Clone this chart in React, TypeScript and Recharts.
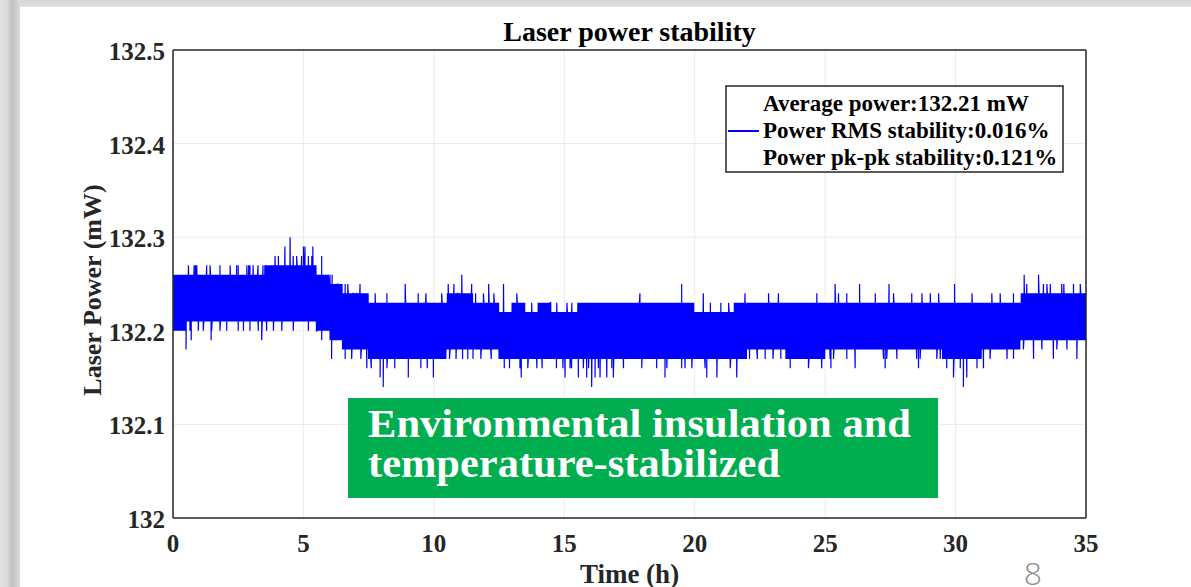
import { LineChart, Line, XAxis, YAxis, CartesianGrid } from "recharts";

const SERIF = "'Liberation Serif', 'Times New Roman', serif";
const AXIS_COLOR = "#262626";

const xTicks = [0, 5, 10, 15, 20, 25, 30, 35];
const yTicks = [132, 132.1, 132.2, 132.3, 132.4, 132.5];

// dense core of the trace, per half hour: upper and lower level (mW)
const BIN_HOURS = 0.5;
const bandHigh = [
  132.26, 132.26, 132.26, 132.26, 132.26, 132.26, 132.26,
  132.27, 132.27, 132.27, 132.27,
  132.26, 132.25, 132.24, 132.24,
  132.23, 132.23, 132.23, 132.23, 132.23,
  132.23, 132.24, 132.24, 132.23, 132.23,
  132.22, 132.23, 132.22, 132.23, 132.22, 132.22,
  132.23, 132.23, 132.23, 132.23, 132.23, 132.23, 132.23, 132.23, 132.23,
  132.22, 132.22, 132.22,
  132.23, 132.23, 132.23, 132.23, 132.23, 132.23, 132.23,
  132.23, 132.23, 132.23, 132.23, 132.23, 132.23, 132.23, 132.23, 132.23, 132.23,
  132.23, 132.23, 132.23, 132.23, 132.23,
  132.24, 132.24, 132.24, 132.24, 132.24,
];
const bandLow = [
  132.2, 132.21, 132.21, 132.21, 132.21, 132.21, 132.21, 132.21, 132.21, 132.21, 132.21,
  132.2, 132.19, 132.18, 132.18,
  132.17, 132.17, 132.17, 132.17, 132.17, 132.17,
  132.18, 132.18, 132.18, 132.18,
  132.17, 132.17, 132.17, 132.17, 132.17, 132.17, 132.17, 132.17, 132.17, 132.17,
  132.17, 132.17, 132.17, 132.17, 132.17, 132.17, 132.17, 132.17, 132.17,
  132.18, 132.18, 132.18,
  132.17, 132.17, 132.17,
  132.18, 132.18, 132.18, 132.18, 132.18, 132.18, 132.18, 132.18, 132.18,
  132.17, 132.17, 132.17,
  132.18, 132.18, 132.18,
  132.19, 132.19, 132.19, 132.19, 132.19,
];

// isolated upward excursions (h, mW)
const peakTimes = [
  0.59, 0.81, 0.86, 0.91, 1.29, 1.42, 1.8, 2.19, 2.44, 2.5, 2.83, 2.9, 2.95, 3.07, 3.26, 3.45,
  3.91, 4.04, 4.29, 4.49, 4.61, 4.74, 4.93, 5.0, 5.06, 5.19, 5.32, 5.36, 5.7,
  6.02, 6.1, 6.2, 6.3, 6.6, 6.7, 6.9, 7.05, 7.17, 7.75, 8.2, 8.9, 9.4, 9.7,
  10.3, 10.55, 10.77, 10.9, 11.07, 11.2, 11.45, 11.6, 11.9, 12.1, 12.3, 12.67, 13.18, 13.3, 13.75, 14.0, 14.2, 14.46, 14.71, 15.1, 15.29,
  17.9, 19.5, 20.33, 20.6, 21.0, 21.3, 21.93, 22.83, 23.21, 24.68,
  25.38, 25.51, 25.83, 26.32, 26.92, 27.45, 27.62, 28.32, 28.71, 29.03, 29.35, 29.96,
  30.63, 31.39, 31.71, 32.22, 32.63, 32.73, 33.18, 33.37, 33.5, 33.63, 34.07, 34.15, 34.52, 34.78,
];
const peakValues = [
  132.27, 132.27, 132.27, 132.27, 132.27, 132.27, 132.27, 132.27, 132.27, 132.27, 132.27, 132.27, 132.27, 132.27, 132.27, 132.27,
  132.28, 132.28, 132.29, 132.3, 132.28, 132.28, 132.28, 132.29, 132.29, 132.28, 132.28, 132.29, 132.28,
  132.26, 132.26, 132.25, 132.25, 132.25, 132.25, 132.24, 132.24, 132.25, 132.24, 132.24, 132.25, 132.24, 132.24,
  132.24, 132.25, 132.25, 132.24, 132.26, 132.24, 132.25, 132.24, 132.24, 132.25, 132.24, 132.25, 132.24, 132.23, 132.23, 132.23, 132.23, 132.23, 132.23, 132.23, 132.23,
  132.24, 132.25, 132.24, 132.23, 132.23, 132.23, 132.24, 132.24, 132.24, 132.24,
  132.25, 132.24, 132.24, 132.25, 132.24, 132.25, 132.24, 132.24, 132.24, 132.24, 132.24, 132.25,
  132.24, 132.24, 132.24, 132.24, 132.26, 132.25, 132.26, 132.25, 132.25, 132.25, 132.25, 132.25, 132.25, 132.25,
];

// isolated downward excursions (h, mW)
const dipTimes = [
  0.3, 0.5, 0.65, 0.7, 0.97, 1.16, 1.46, 1.48, 1.8, 2.06, 2.5, 2.7, 2.95, 3.27, 3.4, 3.59, 3.85, 4.17, 4.61, 5.19, 5.51, 5.7,
  6.08, 6.6, 6.85, 7.2, 7.43, 7.6, 7.94, 8.06, 8.2, 8.5, 9.02, 9.5, 9.75, 9.98,
  10.6, 10.85, 11.1, 11.3, 11.5, 11.8, 12.2, 12.7, 12.9, 13.3, 13.35, 13.6, 13.95, 14.15, 14.7, 14.95,
  15.03, 15.22, 15.28, 15.54, 15.73, 15.86, 15.93, 16.05, 16.18, 16.31, 16.37, 16.63, 16.82, 16.88,
  17.27, 17.97, 18.54, 18.86, 18.93, 19.5, 19.63, 19.89, 20.4, 20.46, 20.85, 21.36, 21.61,
  22.1, 22.4, 22.7, 23.0, 23.3, 23.66, 24.36, 24.87, 25.19, 25.22, 25.32, 25.83, 26.15,
  27.24, 27.3, 27.36, 27.75, 28.51, 28.58, 28.64, 29.28, 29.41, 29.66, 29.92,
  30.18, 30.3, 30.43, 30.82, 31.07, 31.32, 31.97, 32.22, 32.6, 32.99, 33.31, 33.75, 33.88, 34.27, 34.65,
];
const dipValues = [
  132.2, 132.18, 132.2, 132.19, 132.2, 132.2, 132.19, 132.2, 132.2, 132.2, 132.2, 132.2, 132.2, 132.2, 132.19, 132.2, 132.2, 132.2, 132.2, 132.2, 132.2, 132.19,
  132.17, 132.17, 132.17, 132.17, 132.16, 132.16, 132.15, 132.14, 132.16, 132.16, 132.15, 132.16, 132.16, 132.15,
  132.17, 132.17, 132.17, 132.17, 132.17, 132.17, 132.17, 132.16, 132.16, 132.16, 132.15, 132.16, 132.16, 132.16, 132.16, 132.16,
  132.15, 132.16, 132.16, 132.15, 132.16, 132.15, 132.16, 132.14, 132.15, 132.16, 132.15, 132.15, 132.16, 132.15,
  132.16, 132.16, 132.16, 132.15, 132.16, 132.16, 132.16, 132.16, 132.16, 132.15, 132.15, 132.16, 132.15,
  132.17, 132.17, 132.17, 132.17, 132.17, 132.16, 132.16, 132.16, 132.17, 132.16, 132.17, 132.17, 132.16,
  132.17, 132.16, 132.17, 132.17, 132.17, 132.16, 132.17, 132.17, 132.17, 132.16, 132.15,
  132.16, 132.14, 132.15, 132.16, 132.16, 132.17, 132.17, 132.17, 132.18, 132.17, 132.18, 132.17, 132.18, 132.18, 132.17,
];

const SAMPLE_STEP = 0.02;

function buildSeries() {
  const pts: { t: number; p: number }[] = [];
  const n = Math.round(35 / SAMPLE_STEP);
  for (let i = 0; i <= n; i++) {
    const t = Math.min(35, i * SAMPLE_STEP);
    const b = Math.min(bandHigh.length - 1, Math.floor(t / BIN_HOURS));
    pts.push({ t, p: i % 2 === 0 ? bandHigh[b] : bandLow[b] });
  }
  peakTimes.forEach((t, k) => pts.push({ t, p: peakValues[k] }));
  dipTimes.forEach((t, k) => pts.push({ t, p: dipValues[k] }));
  pts.sort((a, b) => a.t - b.t);
  return pts;
}

const series = buildSeries();

const legendLines = [
  "Average power:132.21 mW",
  "Power RMS stability:0.016%",
  "Power pk-pk stability:0.121%",
];

const XTick = ({ x, y, payload }: any) => (
  <text x={x} y={y + 34} textAnchor="middle" fontFamily={SERIF} fontWeight="bold" fontSize={25} fill={AXIS_COLOR}>
    {payload.value}
  </text>
);

const YTick = ({ x, y, payload }: any) => (
  <text x={x - 8} y={y + 10} textAnchor="end" fontFamily={SERIF} fontWeight="bold" fontSize={25} fill={AXIS_COLOR}>
    {payload.value}
  </text>
);

export default function App() {
  return (
    <div style={{ position: "absolute", left: 0, top: 0, width: 1191, height: 587, background: "#fff", overflow: "hidden" }}>
      <div
        style={{
          position: "absolute", left: 0, top: 0, width: 20, height: 587,
          background: "linear-gradient(to right, #e2e2e2 0%, #dadada 35%, #c2c2c2 60%, #cdcdcd 80%, #dcdcdc 100%)",
        }}
      />
      <div
        style={{
          position: "absolute", left: 20, top: 0, width: 1171, height: 7,
          background: "linear-gradient(to bottom, #d6d6d6 0%, #dcdcdc 70%, #e6e6e6 100%)",
        }}
      />
      <div style={{ position: "absolute", left: 0, top: 0 }}>
        <LineChart width={1191} height={587} data={series} margin={{ top: 50, right: 105, bottom: 39, left: 113 }}>
          <CartesianGrid stroke="#ebebeb" strokeWidth={1} />
          <XAxis
            dataKey="t"
            type="number"
            domain={[0, 35]}
            ticks={xTicks}
            height={30}
            tickSize={0}
            tickMargin={0}
            tickLine={false}
            axisLine={{ stroke: AXIS_COLOR, strokeWidth: 1.5 }}
            tick={<XTick />}
            allowDataOverflow
          />
          <XAxis
            xAxisId="top"
            orientation="top"
            mirror
            type="number"
            domain={[0, 35]}
            ticks={xTicks}
            tick={false}
            tickSize={8}
            tickLine={{ stroke: AXIS_COLOR, strokeWidth: 1.5 }}
            axisLine={{ stroke: AXIS_COLOR, strokeWidth: 1.5 }}
          />
          <XAxis
            xAxisId="bottomIn"
            orientation="bottom"
            mirror
            type="number"
            domain={[0, 35]}
            ticks={xTicks}
            tick={false}
            tickSize={8}
            tickLine={{ stroke: AXIS_COLOR, strokeWidth: 1.5 }}
            axisLine={false}
          />
          <YAxis
            type="number"
            domain={[132, 132.5]}
            ticks={yTicks}
            width={60}
            tickSize={0}
            tickMargin={0}
            tickLine={false}
            axisLine={{ stroke: AXIS_COLOR, strokeWidth: 1.5 }}
            tick={<YTick />}
            allowDataOverflow
          />
          <YAxis
            yAxisId="leftIn"
            orientation="left"
            mirror
            type="number"
            domain={[132, 132.5]}
            ticks={yTicks}
            tick={false}
            tickSize={8}
            tickLine={{ stroke: AXIS_COLOR, strokeWidth: 1.5 }}
            axisLine={false}
          />
          <YAxis
            yAxisId="right"
            orientation="right"
            mirror
            type="number"
            domain={[132, 132.5]}
            ticks={yTicks}
            tick={false}
            tickSize={8}
            tickLine={{ stroke: AXIS_COLOR, strokeWidth: 1.5 }}
            axisLine={{ stroke: AXIS_COLOR, strokeWidth: 1.5 }}
          />
          <Line
            type="linear"
            dataKey="p"
            stroke="#0000ff"
            strokeWidth={1.2}
            dot={false}
            isAnimationActive={false}
          />
        </LineChart>
      </div>
      <svg width={1191} height={587} style={{ position: "absolute", left: 0, top: 0, pointerEvents: "none" }}>
        <text x={629.5} y={41} textAnchor="middle" fontFamily={SERIF} fontWeight="bold" fontSize={28} fill="#000">
          Laser power stability
        </text>
        <text x={629.5} y={583} textAnchor="middle" fontFamily={SERIF} fontWeight="bold" fontSize={27} fill={AXIS_COLOR}>
          Time (h)
        </text>
        <text
          x={0}
          y={0}
          transform="translate(101 290) rotate(-90)"
          textAnchor="middle"
          fontFamily={SERIF}
          fontWeight="bold"
          fontSize={26}
          fill={AXIS_COLOR}
        >
          Laser Power (mW)
        </text>
        <rect x={726} y={86} width={337} height={86} fill="#fff" stroke={AXIS_COLOR} strokeWidth={1.5} />
        <line x1={728} y1={131} x2={759} y2={131} stroke="#0000ff" strokeWidth={2} />
        {legendLines.map((s, i) => (
          <text key={s} x={763} y={111 + i * 27} fontFamily={SERIF} fontWeight="bold" fontSize={23} fill="#000">
            {s}
          </text>
        ))}
        <rect x={348} y={398} width={590} height={100} fill="#00ad4f" />
        <text x={368} y={437} fontFamily={SERIF} fontWeight="bold" fontSize={41} fill="#fff" textLength={543} lengthAdjust="spacingAndGlyphs">
          Environmental insulation and
        </text>
        <text x={368} y={477} fontFamily={SERIF} fontWeight="bold" fontSize={41} fill="#fff" textLength={412} lengthAdjust="spacingAndGlyphs">
          temperature-stabilized
        </text>
        <text x={1033} y={585} textAnchor="middle" fontFamily="'Open Sans', 'DejaVu Sans', sans-serif" fontWeight={300} fontSize={32} fill="#8c8c8c">
          8
        </text>
      </svg>
    </div>
  );
}
